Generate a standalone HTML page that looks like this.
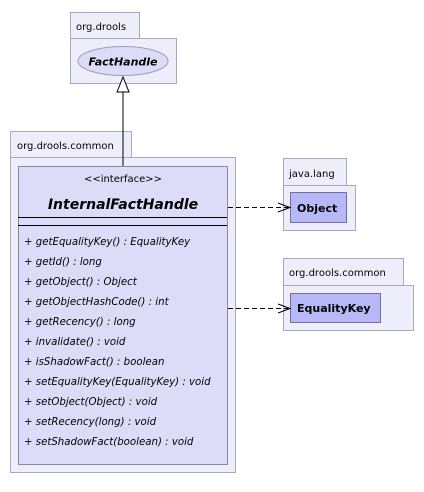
<!DOCTYPE html>
<html><head><style>
body{margin:0;background:#fff;width:424px;height:487px;overflow:hidden}
svg text{font-family:"DejaVu Sans","Liberation Sans",sans-serif}
</style></head><body>
<svg width="424" height="487" xmlns="http://www.w3.org/2000/svg">
<g stroke="#a8a8c0" stroke-width="1" fill="#eeeefa">
<rect x="70.5" y="12.5" width="69" height="26"/>
<rect x="70.5" y="38.5" width="106" height="45"/>
<rect x="10.5" y="131.5" width="121" height="26"/>
<rect x="10.5" y="157.5" width="225" height="315"/>
<rect x="283.5" y="158.5" width="63" height="27"/>
<rect x="283.5" y="185.5" width="72" height="45"/>
<rect x="283.5" y="258.5" width="120" height="27"/>
<rect x="283.5" y="285.5" width="130" height="45"/>
</g>
<ellipse cx="123" cy="61" rx="45" ry="14.5" fill="#dcdcf8" stroke="#9a9ac0"/>
<text x="123" y="65.5" text-anchor="middle" font-size="11" font-weight="bold" font-style="italic">FactHandle</text>
<text x="76" y="30" font-size="10">org.drools</text>
<text x="17" y="149" font-size="10">org.drools.common</text>
<text x="289" y="177" font-size="10">java.lang</text>
<text x="289" y="276" font-size="10">org.drools.common</text>
<rect x="18.5" y="166.5" width="209" height="298" fill="#dcdcf8" stroke="#8888aa"/>
<line x1="123" y1="92" x2="123" y2="166" stroke="#000"/>
<polygon points="123,77 117,92 129,92" fill="#fff" stroke="#000"/>
<text x="123" y="182" text-anchor="middle" font-size="10">&lt;&lt;interface&gt;&gt;</text>
<text x="123" y="209" text-anchor="middle" font-size="14" font-weight="bold" font-style="italic">InternalFactHandle</text>
<line x1="18" y1="217.5" x2="227" y2="217.5" stroke="#000"/>
<line x1="18" y1="225.5" x2="227" y2="225.5" stroke="#000"/>
<g font-size="10.2" font-style="italic">
<text x="24" y="245">+ getEqualityKey() : EqualityKey</text>
<text x="24" y="265">+ getId() : long</text>
<text x="24" y="285">+ getObject() : Object</text>
<text x="24" y="305">+ getObjectHashCode() : int</text>
<text x="24" y="325">+ getRecency() : long</text>
<text x="24" y="345">+ invalidate() : void</text>
<text x="24" y="365">+ isShadowFact() : boolean</text>
<text x="24" y="385">+ setEqualityKey(EqualityKey) : void</text>
<text x="24" y="405">+ setObject(Object) : void</text>
<text x="24" y="425">+ setRecency(long) : void</text>
<text x="24" y="445">+ setShadowFact(boolean) : void</text>
</g>
<rect x="290.5" y="192.5" width="56" height="30" fill="#b8b8f8" stroke="#7070a0"/>
<text x="297" y="212" font-size="11" font-weight="bold">Object</text>
<rect x="290.5" y="293.5" width="90" height="29" fill="#b8b8f8" stroke="#7070a0"/>
<text x="297" y="312" font-size="11" font-weight="bold">EqualityKey</text>
<g stroke="#000" fill="none">
<line x1="228" y1="207.5" x2="289" y2="207.5" stroke-dasharray="5,3"/>
<polyline points="278,203 290,207.5 278,212"/>
<line x1="228" y1="308.5" x2="289" y2="308.5" stroke-dasharray="5,3"/>
<polyline points="278,304 290,308.5 278,313"/>
</g>
</svg>
</body></html>
